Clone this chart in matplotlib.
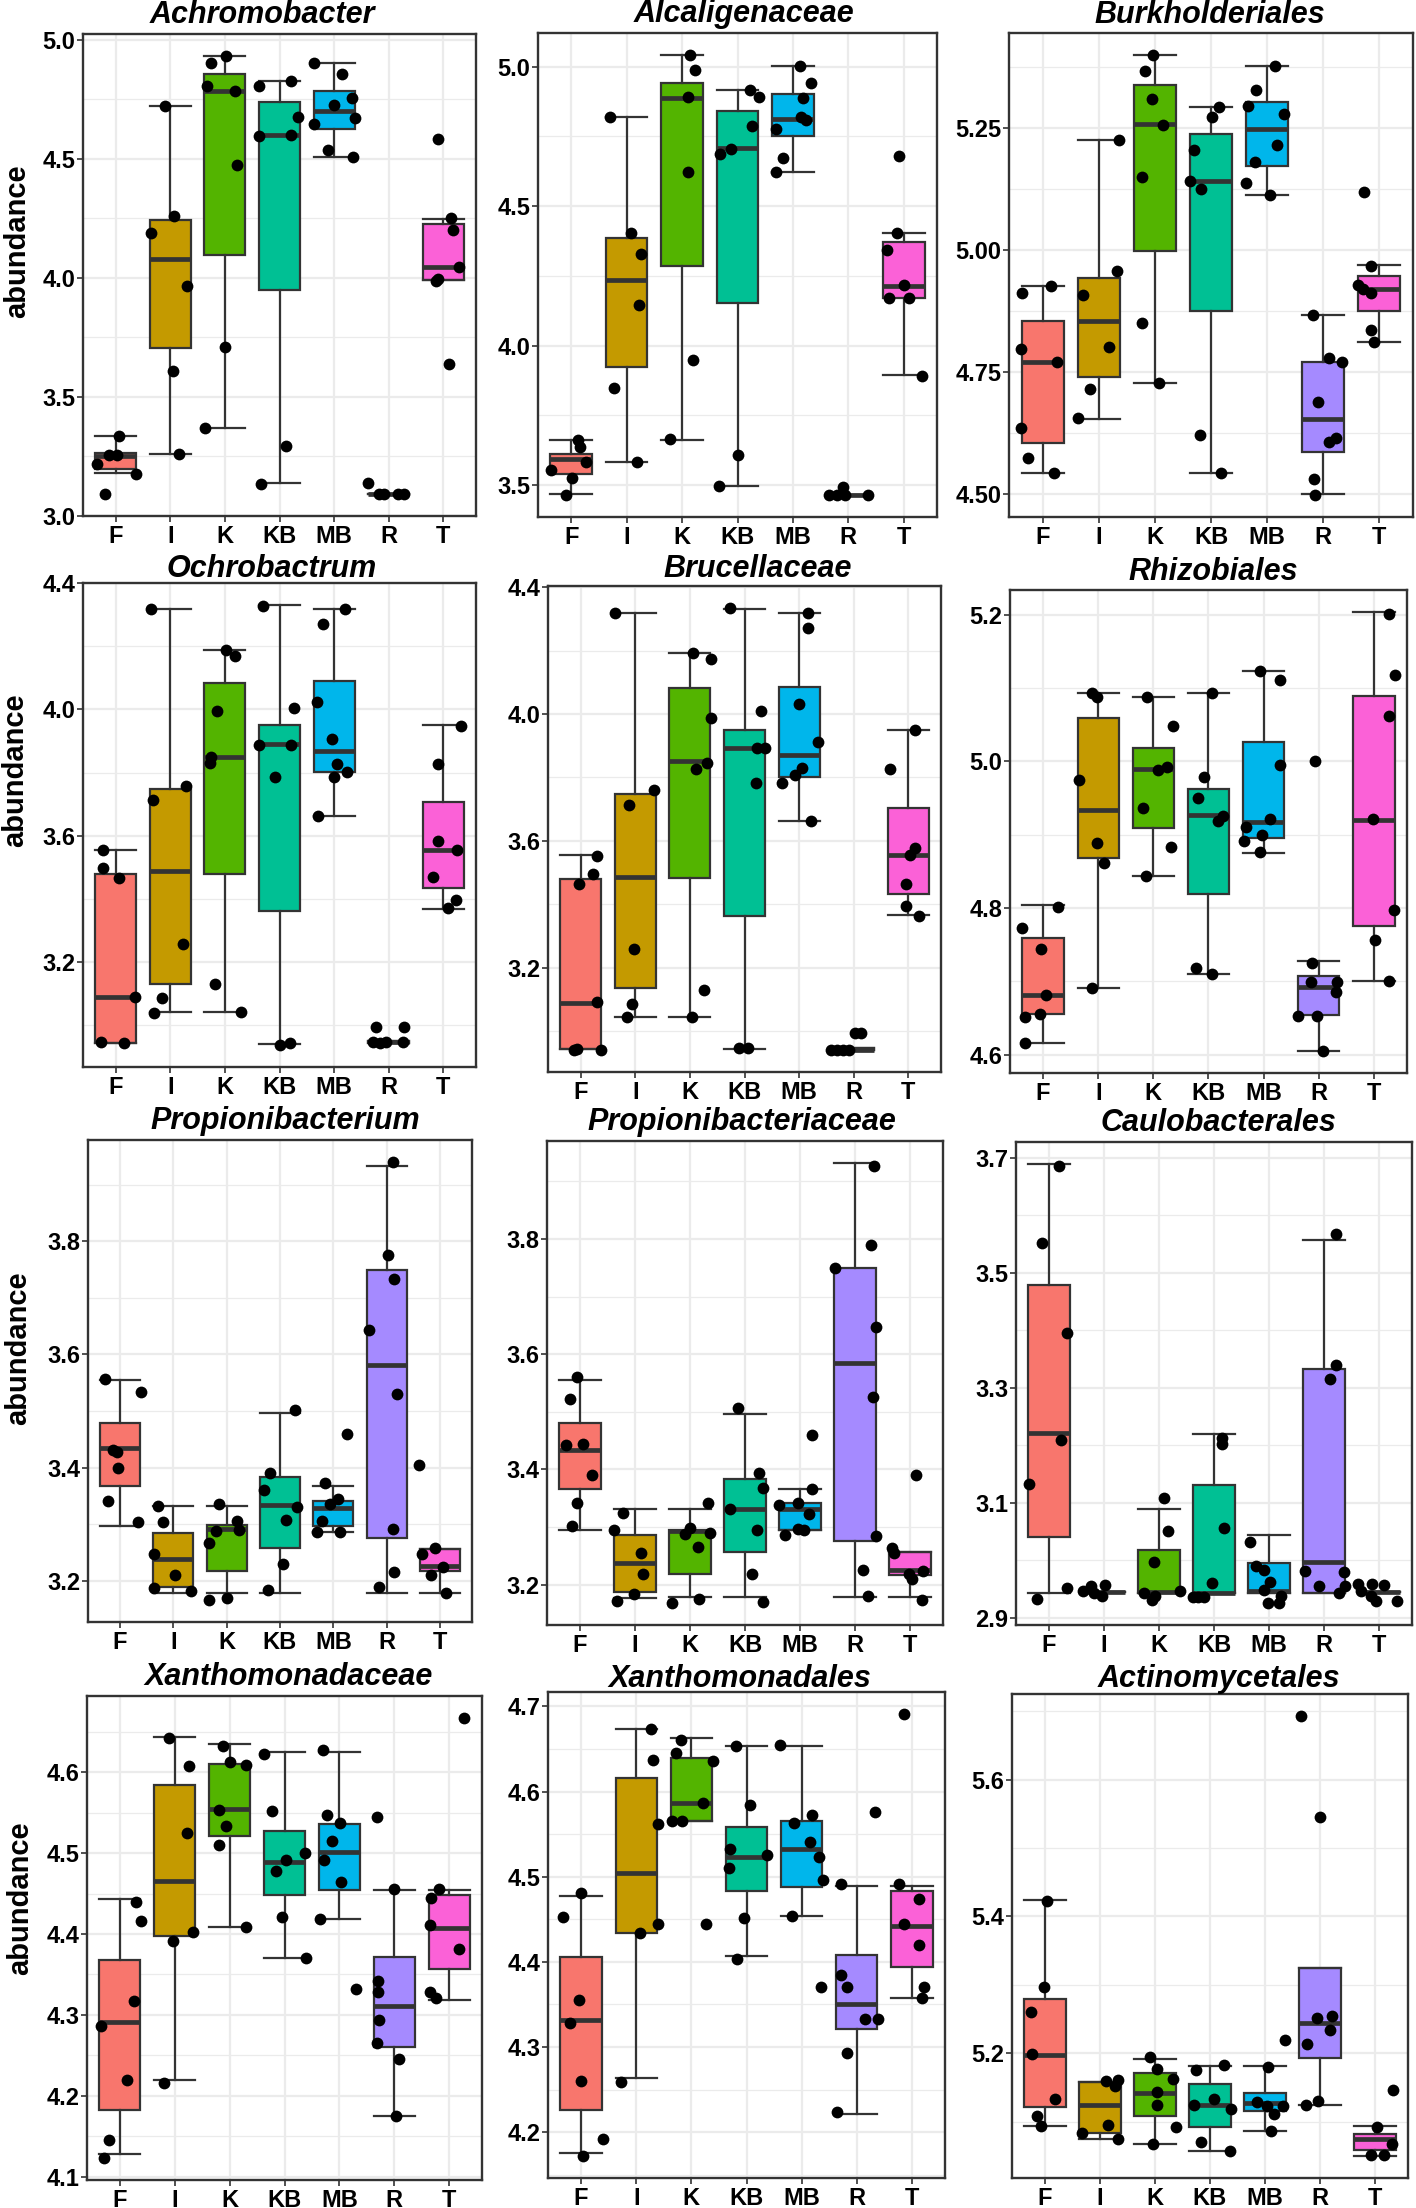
import matplotlib
matplotlib.use("Agg")
import matplotlib.pyplot as plt
import numpy as np

plt.rcParams['font.family'] = ['Liberation Sans', 'DejaVu Sans']

GROUPS = ["F", "I", "K", "KB", "MB", "R", "T"]
COLORS = ["#F8766D", "#C49A00", "#53B400", "#00C094", "#00B6EB", "#A58AFF", "#FB61D7"]

# ---------- box stats: [whislo, q1, median, q3, whishi] per group ----------
ACHRO_BOX = [[3.180, 3.199, 3.253, 3.266, 3.334], [3.259, 3.704, 4.080, 4.244, 4.724],
             [3.370, 4.095, 4.787, 4.858, 4.933], [3.138, 3.948, 4.602, 4.741, 4.827],
             [4.510, 4.625, 4.701, 4.787, 4.903], [3.092, 3.092, 3.092, 3.092, 3.092],
             [3.991, 3.991, 4.045, 4.227, 4.247]]
ACHRO_PTS = [[3.220, 3.256, 3.256, 3.334, 3.178, 3.092], [4.724, 4.261, 4.190, 3.967, 3.611, 3.260],
             [4.933, 4.905, 4.808, 4.787, 4.475, 3.711, 3.370], [4.805, 4.827, 4.677, 4.596, 4.602, 3.294, 3.135],
             [4.903, 4.855, 4.727, 4.758, 4.673, 4.649, 4.539, 4.507], [3.138, 3.092, 3.092, 3.092, 3.092],
             [4.585, 4.251, 4.201, 4.045, 3.995, 3.988, 3.637]]
ACHRO_JIT = [[-0.34, -0.12, 0.03, 0.06, 0.37, -0.2], [-0.1, 0.06, -0.36, 0.31, 0.05, 0.15],
             [0.02, -0.26, -0.33, 0.18, 0.23, 0, -0.37], [-0.37, 0.21, 0.34, -0.37, 0.21, 0.12, -0.34],
             [-0.37, 0.14, -0.01, 0.32, 0.38, -0.37, -0.12, 0.35], [-0.37, -0.18, -0.09, 0.18, 0.28],
             [-0.09, 0.15, 0.18, 0.29, -0.09, -0.13, 0.11]]

ALCAL_BOX = [[3.466, 3.540, 3.592, 3.612, 3.663], [3.584, 3.923, 4.236, 4.387, 4.819],
             [3.663, 4.284, 4.889, 4.941, 5.042], [3.498, 4.151, 4.708, 4.841, 4.917],
             [4.622, 4.751, 4.813, 4.901, 5.001], [3.465, 3.465, 3.465, 3.465, 3.465],
             [3.893, 4.172, 4.214, 4.373, 4.405]]
ALCAL_PTS = [[3.663, 3.636, 3.582, 3.555, 3.525, 3.464], [4.819, 4.404, 4.327, 4.145, 3.847, 3.584],
             [5.042, 4.989, 4.892, 4.622, 3.947, 3.664], [4.917, 4.892, 4.787, 4.705, 4.687, 3.608, 3.498],
             [5.001, 4.941, 4.889, 4.819, 4.808, 4.777, 4.672, 4.622], [3.465, 3.465, 3.494, 3.465, 3.465],
             [4.681, 4.404, 4.343, 4.217, 4.172, 4.172, 3.889]]
ALCAL_JIT = [[0.12, 0.15, 0.27, -0.37, 0.01, -0.1], [-0.3, 0.07, 0.26, 0.22, -0.22, 0.18],
             [0.14, 0.23, 0.11, 0.1, 0.2, -0.22], [0.23, 0.39, 0.27, -0.12, -0.32, 0, -0.34],
             [0.12, 0.32, 0.19, 0.14, 0.23, -0.3, -0.17, -0.3], [-0.35, -0.21, -0.1, -0.06, 0.36],
             [-0.09, -0.12, -0.3, 0, -0.27, 0.09, 0.33]]

BURK_BOX = [[4.543, 4.605, 4.771, 4.854, 4.926], [4.653, 4.740, 4.855, 4.942, 5.225],
            [4.727, 4.999, 5.258, 5.338, 5.400], [4.543, 4.875, 5.142, 5.239, 5.294],
            [5.112, 5.172, 5.248, 5.303, 5.377], [4.500, 4.586, 4.653, 4.771, 4.868],
            [4.811, 4.876, 4.920, 4.947, 4.970]]
BURK_PTS = [[4.926, 4.913, 4.797, 4.770, 4.636, 4.573, 4.543], [5.225, 4.958, 4.907, 4.802, 4.716, 4.655],
            [5.400, 5.367, 5.310, 5.256, 5.149, 4.850, 4.727], [5.294, 5.273, 5.205, 5.141, 5.125, 4.622, 4.543],
            [5.377, 5.329, 5.295, 5.280, 5.215, 5.180, 5.137, 5.112],
            [4.868, 4.778, 4.770, 4.688, 4.615, 4.606, 4.530, 4.498],
            [5.119, 4.968, 4.928, 4.920, 4.913, 4.837, 4.811]]
BURK_JIT = [[0.15, -0.36, -0.39, 0.25, -0.39, -0.27, 0.21], [0.36, 0.33, -0.29, 0.18, -0.15, -0.37],
            [-0.03, -0.18, -0.05, 0.15, -0.23, -0.23, 0.07], [0.15, 0.02, -0.3, -0.38, -0.18, -0.19, 0.18],
            [0.14, -0.19, -0.34, 0.3, 0.18, -0.21, -0.37, 0.05], [-0.18, 0.11, 0.34, -0.09, 0.23, 0.1, -0.16, -0.15],
            [-0.27, -0.14, -0.38, -0.29, -0.15, -0.14, -0.09]]

OCHRO_BOX = [[2.942, 2.942, 3.089, 3.479, 3.556], [3.042, 3.131, 3.487, 3.748, 4.318],
             [3.042, 3.479, 3.850, 4.083, 4.190], [2.940, 3.362, 3.890, 3.950, 4.331],
             [3.662, 3.801, 3.870, 4.089, 4.318], [2.942, 2.942, 2.946, 2.950, 2.950],
             [3.368, 3.433, 3.556, 3.707, 3.950]]
OCHRO_PTS = [[3.556, 3.498, 3.467, 3.089, 2.946, 2.942], [4.318, 3.756, 3.712, 3.257, 3.087, 3.037],
             [4.190, 4.170, 3.994, 3.848, 3.829, 3.131, 3.042], [4.328, 4.006, 3.889, 3.889, 3.787, 2.937, 2.942],
             [4.318, 4.272, 4.023, 3.907, 3.826, 3.803, 3.787, 3.662], [2.994, 2.994, 2.946, 2.942, 2.946, 2.946],
             [3.948, 3.828, 3.583, 3.556, 3.468, 3.396, 3.370]]
OCHRO_JIT = [[-0.24, -0.24, 0.06, 0.35, -0.27, 0.15], [-0.35, 0.29, -0.32, 0.24, -0.16, -0.3],
             [0.02, 0.18, -0.14, -0.26, -0.28, -0.18, 0.29], [-0.3, 0.26, -0.38, 0.21, -0.09, 0.01, 0.2],
             [0.2, -0.2, -0.32, -0.04, 0.05, 0.23, 0, -0.3], [-0.23, 0.29, -0.29, -0.16, -0.04, 0.26],
             [0.32, -0.09, -0.09, 0.26, -0.18, 0.24, 0.08]]

BRUC_BOX = [[2.943, 2.943, 3.089, 3.480, 3.554], [3.045, 3.134, 3.485, 3.748, 4.317],
            [3.045, 3.482, 3.850, 4.082, 4.193], [2.943, 3.364, 3.891, 3.949, 4.331],
            [3.662, 3.801, 3.869, 4.085, 4.317], [2.940, 2.940, 2.940, 2.946, 2.946],
            [3.366, 3.432, 3.554, 3.703, 3.950]]
BRUC_PTS = [[3.552, 3.495, 3.465, 3.092, 2.940, 2.943, 2.940], [4.317, 3.761, 3.714, 3.259, 3.086, 3.045],
            [4.193, 4.173, 3.988, 3.845, 3.827, 3.130, 3.045], [4.334, 4.008, 3.891, 3.891, 3.783, 2.946, 2.946],
            [4.319, 4.271, 4.030, 3.911, 3.828, 3.808, 3.781, 3.662], [2.940, 2.940, 2.940, 2.940, 2.993, 2.993],
            [3.950, 3.827, 3.576, 3.554, 3.465, 3.394, 3.364]]
BRUC_JIT = [[0.3, 0.23, -0.04, 0.29, -0.12, -0.06, 0.38], [-0.37, 0.35, -0.12, -0.02, -0.07, -0.16],
            [0.05, 0.38, 0.38, 0.32, 0.12, 0.26, 0.03], [-0.26, 0.31, 0.22, 0.37, 0.21, -0.1, 0.07],
            [0.17, 0.17, -0.01, 0.35, 0.05, -0.08, -0.32, 0.21], [-0.41, -0.3, -0.2, -0.08, 0.03, 0.13],
            [0.12, -0.34, 0.12, 0.03, -0.05, -0.05, 0.2]]

RHIZ_BOX = [[4.616, 4.655, 4.682, 4.759, 4.804], [4.691, 4.868, 4.934, 5.060, 5.094],
            [4.844, 4.909, 4.990, 5.019, 5.088], [4.710, 4.819, 4.927, 4.962, 5.094],
            [4.875, 4.895, 4.918, 5.026, 5.124], [4.605, 4.654, 4.692, 4.707, 4.728],
            [4.700, 4.775, 4.920, 5.090, 5.204]]
RHIZ_PTS = [[4.802, 4.773, 4.744, 4.682, 4.652, 4.656, 4.616], [5.094, 5.088, 4.975, 4.889, 4.862, 4.691],
            [5.088, 5.048, 4.992, 4.988, 4.936, 4.884, 4.844], [5.094, 4.979, 4.950, 4.926, 4.919, 4.718, 4.710],
            [5.124, 5.111, 4.995, 4.922, 4.911, 4.900, 4.892, 4.877],
            [5.001, 4.725, 4.699, 4.699, 4.685, 4.653, 4.653, 4.605],
            [5.201, 5.118, 5.062, 4.922, 4.798, 4.756, 4.700]]
RHIZ_JIT = [[0.27, -0.38, -0.03, 0.06, -0.32, -0.06, -0.32], [-0.11, -0.03, -0.35, -0.03, 0.1, -0.11],
            [-0.11, 0.35, 0.24, 0.09, -0.18, 0.32, -0.14], [0.06, -0.09, -0.19, 0.26, 0.17, -0.23, 0.06],
            [-0.06, 0.3, 0.29, 0.11, -0.32, -0.03, -0.35, -0.06], [-0.07, -0.12, -0.15, 0.33, 0.32, -0.38, -0.03, 0.08],
            [0.27, 0.39, 0.27, -0.02, 0.37, 0.02, 0.27]]

PROPB_BOX = [[3.296, 3.367, 3.434, 3.479, 3.555], [3.179, 3.190, 3.239, 3.285, 3.333],
             [3.179, 3.217, 3.292, 3.298, 3.333], [3.179, 3.258, 3.334, 3.384, 3.497],
             [3.286, 3.296, 3.328, 3.341, 3.368], [3.179, 3.276, 3.582, 3.749, 3.932],
             [3.179, 3.217, 3.226, 3.257, 3.257]]
PROPB_PTS = [[3.557, 3.533, 3.431, 3.428, 3.400, 3.341, 3.304], [3.332, 3.304, 3.248, 3.211, 3.188, 3.182],
             [3.335, 3.305, 3.288, 3.290, 3.266, 3.166, 3.169], [3.501, 3.390, 3.361, 3.330, 3.307, 3.229, 3.184],
             [3.460, 3.372, 3.345, 3.335, 3.305, 3.286, 3.286], [3.940, 3.775, 3.733, 3.643, 3.530, 3.291, 3.216, 3.190],
             [3.405, 3.248, 3.258, 3.225, 3.210, 3.179]]
PROPB_JIT = [[-0.29, 0.39, -0.13, -0.05, -0.03, -0.22, 0.34], [-0.28, -0.19, -0.36, 0.04, -0.36, 0.34],
             [-0.14, 0.2, -0.2, 0.24, -0.34, -0.33, 0], [0.28, -0.18, -0.3, 0.31, 0.11, 0.06, -0.22],
             [0.25, -0.16, 0.08, -0.06, -0.21, -0.3, 0.13], [0.11, 0.03, 0.13, -0.33, 0.19, 0.11, 0.14, -0.14],
             [-0.39, -0.33, -0.09, 0.06, -0.17, 0.11]]

PROPC_BOX = [[3.295, 3.366, 3.434, 3.481, 3.555], [3.177, 3.187, 3.238, 3.286, 3.331],
             [3.178, 3.218, 3.293, 3.295, 3.331], [3.178, 3.257, 3.332, 3.384, 3.497],
             [3.295, 3.295, 3.332, 3.342, 3.366], [3.178, 3.276, 3.585, 3.750, 3.932],
             [3.178, 3.216, 3.226, 3.257, 3.257]]
PROPC_PTS = [[3.560, 3.522, 3.442, 3.444, 3.391, 3.341, 3.301], [3.324, 3.295, 3.254, 3.219, 3.184, 3.172],
             [3.342, 3.298, 3.287, 3.290, 3.265, 3.168, 3.175], [3.506, 3.393, 3.367, 3.331, 3.295, 3.219, 3.170],
             [3.459, 3.366, 3.338, 3.341, 3.322, 3.286, 3.297, 3.295],
             [3.927, 3.790, 3.750, 3.648, 3.526, 3.285, 3.226, 3.181],
             [3.390, 3.264, 3.254, 3.224, 3.219, 3.209, 3.174]]
PROPC_JIT = [[-0.06, -0.19, -0.26, 0.05, 0.21, -0.06, -0.15], [-0.22, -0.38, 0.11, 0.14, -0.01, -0.32],
             [0.32, 0, -0.09, 0.36, 0.14, -0.33, 0.17], [-0.13, 0.25, 0.32, -0.27, 0.21, 0.13, 0.32],
             [0.22, 0.22, -0.38, -0.03, 0.17, -0.28, -0.04, 0.08], [0.35, 0.29, -0.36, 0.38, 0.32, 0.38, 0.15, 0.24],
             [0.1, -0.32, -0.3, 0.24, -0.01, 0.03, 0.21]]

CAUL_BOX = [[2.944, 3.040, 3.222, 3.478, 3.689], [2.945, 2.945, 2.945, 2.945, 2.945],
            [2.944, 2.944, 2.945, 3.019, 3.090], [2.944, 2.944, 2.944, 3.131, 3.220],
            [2.944, 2.944, 2.947, 2.996, 3.044], [2.944, 2.944, 2.997, 3.332, 3.556],
            [2.945, 2.945, 2.945, 2.945, 2.945]]
CAUL_PTS = [[3.685, 3.551, 3.395, 3.210, 3.133, 2.953, 2.933], [2.947, 2.955, 2.944, 2.957, 2.938],
            [3.108, 3.051, 2.997, 2.944, 2.938, 2.932, 2.947], [3.213, 3.203, 3.056, 2.961, 2.936, 2.936, 2.936],
            [3.032, 2.991, 2.984, 2.962, 2.949, 2.939, 2.926, 2.926],
            [3.568, 3.339, 3.315, 2.981, 2.980, 2.955, 2.956, 2.944],
            [2.959, 2.959, 2.958, 2.947, 2.939, 2.930, 2.930]]
CAUL_JIT = [[0.19, -0.12, 0.32, 0.22, -0.36, 0.33, -0.21], [-0.39, -0.24, -0.18, 0.01, -0.04],
            [0.09, 0.16, -0.1, -0.27, -0.07, -0.12, 0.38], [0.15, 0.14, 0.18, -0.04, -0.39, -0.29, -0.18],
            [-0.35, -0.23, -0.09, 0.01, -0.09, 0.21, -0.01, 0.18], [0.22, 0.21, 0.1, -0.35, 0.36, -0.09, 0.38, 0.27],
            [-0.38, -0.12, 0.09, -0.32, -0.15, -0.06, 0.33]]

XCEAE_BOX = [[4.128, 4.182, 4.291, 4.368, 4.443], [4.220, 4.398, 4.465, 4.584, 4.644],
             [4.408, 4.521, 4.554, 4.610, 4.635], [4.370, 4.448, 4.489, 4.527, 4.625],
             [4.419, 4.454, 4.501, 4.536, 4.625], [4.175, 4.260, 4.311, 4.371, 4.454],
             [4.318, 4.357, 4.407, 4.448, 4.454]]
XCEAE_PTS = [[4.439, 4.416, 4.317, 4.286, 4.220, 4.145, 4.123], [4.642, 4.608, 4.525, 4.403, 4.391, 4.216],
             [4.632, 4.612, 4.609, 4.553, 4.533, 4.510, 4.408], [4.623, 4.552, 4.491, 4.500, 4.478, 4.421, 4.370],
             [4.627, 4.547, 4.537, 4.515, 4.491, 4.464, 4.419, 4.332],
             [4.545, 4.456, 4.342, 4.328, 4.293, 4.265, 4.245, 4.175],
             [4.667, 4.456, 4.445, 4.411, 4.382, 4.328, 4.321]]
XCEAE_JIT = [[0.3, 0.38, 0.26, -0.35, 0.12, -0.19, -0.29], [-0.1, 0.26, 0.22, 0.33, -0.03, -0.19],
             [-0.13, 0.01, 0.3, -0.19, -0.07, -0.2, 0.29], [-0.38, -0.22, 0.03, 0.38, -0.15, -0.04, 0.4],
             [-0.29, -0.22, 0.02, -0.13, -0.28, 0.03, -0.35, 0.3], [-0.32, 0, -0.29, -0.29, -0.28, -0.31, 0.09, 0.04],
             [0.27, -0.19, -0.33, -0.34, 0.18, -0.35, -0.23]]

XALES_BOX = [[4.175, 4.226, 4.332, 4.406, 4.477], [4.263, 4.434, 4.504, 4.616, 4.673],
             [4.565, 4.565, 4.586, 4.639, 4.663], [4.407, 4.483, 4.523, 4.558, 4.654],
             [4.454, 4.488, 4.533, 4.566, 4.654], [4.221, 4.321, 4.351, 4.408, 4.489],
             [4.357, 4.394, 4.442, 4.483, 4.489]]
XALES_PTS = [[4.481, 4.453, 4.355, 4.328, 4.260, 4.192, 4.172], [4.673, 4.637, 4.562, 4.445, 4.434, 4.259],
             [4.661, 4.645, 4.636, 4.587, 4.566, 4.565, 4.445], [4.654, 4.584, 4.532, 4.525, 4.510, 4.452, 4.403],
             [4.655, 4.572, 4.563, 4.541, 4.523, 4.496, 4.454, 4.370],
             [4.576, 4.491, 4.385, 4.370, 4.333, 4.333, 4.293, 4.223],
             [4.691, 4.491, 4.474, 4.444, 4.420, 4.371, 4.357]]
XALES_JIT = [[0, -0.32, -0.03, -0.21, 0, 0.39, 0.04], [0.26, 0.31, 0.39, 0.39, 0.07, -0.27],
             [-0.18, -0.27, 0.39, 0.21, -0.35, -0.17, 0.27], [-0.19, 0.07, -0.3, 0.38, -0.32, -0.04, -0.17],
             [-0.39, 0.19, -0.14, 0.16, 0.32, 0.38, -0.17, 0.36], [0.33, -0.28, -0.29, -0.18, 0.15, 0.39, -0.17, -0.36],
             [-0.15, -0.24, 0.13, -0.14, 0.13, 0.22, 0.19]]

ACTIN_BOX = [[5.094, 5.121, 5.198, 5.280, 5.424], [5.075, 5.084, 5.124, 5.158, 5.158],
             [5.067, 5.108, 5.142, 5.171, 5.192], [5.057, 5.093, 5.124, 5.155, 5.182],
             [5.087, 5.116, 5.127, 5.142, 5.182], [5.124, 5.193, 5.245, 5.325, 5.325],
             [5.050, 5.059, 5.075, 5.082, 5.094]]
ACTIN_PTS = [[5.423, 5.297, 5.261, 5.199, 5.134, 5.108, 5.094], [5.159, 5.161, 5.153, 5.095, 5.084, 5.075],
             [5.195, 5.177, 5.163, 5.143, 5.125, 5.093, 5.067], [5.183, 5.176, 5.134, 5.124, 5.118, 5.070, 5.057],
             [5.220, 5.180, 5.129, 5.123, 5.123, 5.112, 5.086],
             [5.693, 5.545, 5.251, 5.254, 5.234, 5.213, 5.130, 5.125],
             [5.146, 5.092, 5.067, 5.051, 5.051]]
ACTIN_JIT = [[0.03, -0.01, -0.25, -0.24, 0.18, -0.15, -0.07], [0.11, 0.32, 0.27, 0.15, -0.33, 0.32],
             [-0.09, 0.04, 0.32, 0.03, 0.03, 0.39, -0.04], [0.26, -0.26, 0.07, -0.29, 0.38, -0.17, 0.36],
             [0.36, 0.06, -0.15, 0.03, 0.32, 0.17, 0.11], [-0.35, 0, -0.06, 0.22, 0.19, -0.23, -0.04, -0.25],
             [0.33, 0.04, 0.3, -0.07, 0.17]]

TITLES = ["Achromobacter", "Alcaligenaceae", "Burkholderiales",
          "Ochrobactrum", "Brucellaceae", "Rhizobiales",
          "Propionibacterium", "Propionibacteriaceae", "Caulobacterales",
          "Xanthomonadaceae", "Xanthomonadales", "Actinomycetales"]
YTICKS = [[3.0, 3.5, 4.0, 4.5, 5.0], [3.5, 4.0, 4.5, 5.0], [4.50, 4.75, 5.00, 5.25],
          [3.2, 3.6, 4.0, 4.4], [3.2, 3.6, 4.0, 4.4], [4.6, 4.8, 5.0, 5.2],
          [3.2, 3.4, 3.6, 3.8], [3.2, 3.4, 3.6, 3.8], [2.9, 3.1, 3.3, 3.5, 3.7],
          [4.1, 4.2, 4.3, 4.4, 4.5, 4.6], [4.2, 4.3, 4.4, 4.5, 4.6, 4.7], [5.2, 5.4, 5.6]]
YFMT = ["%.1f", "%.1f", "%.2f", "%.1f", "%.1f", "%.1f", "%.1f", "%.1f", "%.1f", "%.1f", "%.1f", "%.1f"]

BOXES = [ACHRO_BOX, ALCAL_BOX, BURK_BOX, OCHRO_BOX, BRUC_BOX, RHIZ_BOX,
         PROPB_BOX, PROPC_BOX, CAUL_BOX, XCEAE_BOX, XALES_BOX, ACTIN_BOX]
POINTS = [ACHRO_PTS, ALCAL_PTS, BURK_PTS, OCHRO_PTS, BRUC_PTS, RHIZ_PTS,
          PROPB_PTS, PROPC_PTS, CAUL_PTS, XCEAE_PTS, XALES_PTS, ACTIN_PTS]
JITTER = [ACHRO_JIT, ALCAL_JIT, BURK_JIT, OCHRO_JIT, BRUC_JIT, RHIZ_JIT,
          PROPB_JIT, PROPC_JIT, CAUL_JIT, XCEAE_JIT, XALES_JIT, ACTIN_JIT]

# ---------- layout (pixels): left, top, right, bottom ----------
W, H = 1416, 2208
AX_RECTS = [(83, 34, 476, 516), (538, 33, 937, 517), (1009, 33, 1413, 517),
            (83, 583, 476, 1067), (548, 586, 941, 1072), (1010, 590, 1407, 1073),
            (88, 1140, 472, 1622), (547, 1141, 943, 1625), (1016, 1142, 1412, 1625),
            (87, 1696, 482, 2180), (548, 1692, 945, 2178), (1012, 1694, 1408, 2178)]
TITLE_XY = [(262, 15), (744, 14), (1210, 15), (272, 569), (758, 569), (1213, 572),
            (285, 1121), (742, 1122), (1218, 1123), (289, 1677), (740, 1679), (1219, 1679)]
YLAB_XY = [(17, 241), (15, 770), (18, 1348), (20, 1898)]

fig = plt.figure(figsize=(W / 100, H / 100), dpi=100)
fig.patch.set_facecolor("white")

EDGE = "#333333"
GRID = "#EBEBEB"
pos = np.arange(1, len(GROUPS) + 1)

for i in range(12):
    l, t, r, b = AX_RECTS[i]
    ax = fig.add_axes([l / W, 1 - b / H, (r - l) / W, (b - t) / H])
    stats = []
    for g, row in enumerate(BOXES[i]):
        stats.append(dict(whislo=row[0], q1=row[1], med=row[2], q3=row[3], whishi=row[4],
                          fliers=[], label=GROUPS[g]))
    bp = ax.bxp(stats, positions=pos, widths=0.75, capwidths=0.75, patch_artist=True,
                showfliers=False,
                boxprops=dict(edgecolor=EDGE, linewidth=1.6),
                medianprops=dict(color=EDGE, linewidth=3.4, solid_capstyle="butt"),
                whiskerprops=dict(color=EDGE, linewidth=1.6),
                capprops=dict(color=EDGE, linewidth=1.6), zorder=2)
    for patch, c in zip(bp["boxes"], COLORS):
        patch.set_facecolor(c)

    allv = []
    for g in range(len(GROUPS)):
        vals = np.array(POINTS[i][g])
        xs = pos[g] + np.array(JITTER[i][g])
        ax.scatter(xs, vals, s=72, color="black", zorder=4, linewidths=0)
        allv.extend(vals)
        allv.extend(BOXES[i][g])
    lo, hi = min(allv), max(allv)
    pad = 0.05 * (hi - lo)

    ticks = YTICKS[i]
    ax.set_yticks(ticks, labels=[YFMT[i] % v for v in ticks], fontsize=17, fontweight="bold")
    step = ticks[1] - ticks[0]
    minor = [ticks[0] - step / 2] + [(a + c) / 2 for a, c in zip(ticks[:-1], ticks[1:])] + [ticks[-1] + step / 2]
    ax.set_yticks(minor, minor=True)
    ax.set_xticks(pos, labels=GROUPS, fontsize=17, fontweight="bold")
    ax.set_xlim(0.4, 7.6)
    ax.set_ylim(lo - pad, hi + pad)

    ax.set_axisbelow(True)
    ax.grid(which="major", color=GRID, linewidth=1.6, zorder=0)
    ax.grid(which="minor", axis="y", color=GRID, linewidth=0.9, zorder=0)
    ax.tick_params(which="major", length=4, width=1.2, color=EDGE, labelcolor="black", pad=1.5)
    ax.tick_params(axis="x", which="major", pad=2.5)
    ax.tick_params(which="minor", length=0)
    for sp in ax.spines.values():
        sp.set_color(EDGE)
        sp.set_linewidth(1.7)

    tx, ty = TITLE_XY[i]
    fig.text(tx / W, 1 - ty / H, TITLES[i], ha="center", va="center", fontsize=22,
             fontweight="bold", fontstyle="italic")

for (x, y) in YLAB_XY:
    fig.text(x / W, 1 - y / H, "abundance", rotation=90, ha="center", va="center",
             fontsize=21, fontweight="bold")

fig.savefig("out.png", dpi=100, facecolor="white")
